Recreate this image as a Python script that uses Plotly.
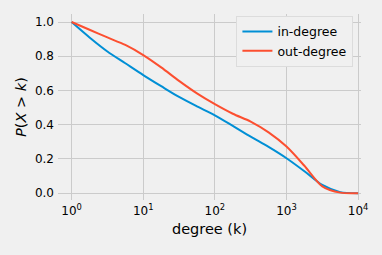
import plotly.graph_objects as go

degree = [1, 1.78, 3.16, 5.62, 10, 17.8, 31.6, 56.2, 100, 178, 316, 562, 1000, 1778, 3162, 5623, 10000]
in_degree = [1.0, 0.91, 0.828, 0.759, 0.69, 0.625, 0.562, 0.507, 0.455, 0.393, 0.33, 0.27, 0.204, 0.128, 0.048, 0.006, 0.0]
out_degree = [1.0, 0.955, 0.91, 0.866, 0.807, 0.735, 0.656, 0.583, 0.52, 0.464, 0.418, 0.355, 0.272, 0.16, 0.04, 0.003, 0.0]
x_tickvals = [1, 10, 100, 1000, 10000]
x_ticktext = ["10<sup>0</sup>", "10<sup>1</sup>", "10<sup>2</sup>", "10<sup>3</sup>", "10<sup>4</sup>"]
y_tickvals = [0.0, 0.2, 0.4, 0.6, 0.8, 1.0]

fig = go.Figure()
fig.add_trace(go.Scatter(x=degree, y=in_degree, mode="lines", name="in-degree",
                         line=dict(color="#008fd5", width=2, shape="spline", smoothing=0.8)))
fig.add_trace(go.Scatter(x=degree, y=out_degree, mode="lines", name="out-degree",
                         line=dict(color="#fc4f30", width=2, shape="spline", smoothing=0.8)))

fig.update_layout(
    width=382, height=255,
    margin=dict(l=58, r=21, t=14, b=55),
    paper_bgcolor="#f0f0f0", plot_bgcolor="#f0f0f0",
    font=dict(family="DejaVu Sans", size=12, color="#000000"),
    showlegend=True,
    legend=dict(x=0.975, y=0.99, xanchor="right", yanchor="top",
                bgcolor="#f0f0f0", bordercolor="#dcdcdc", borderwidth=1,
                font=dict(size=12.5), tracegroupgap=0, itemwidth=30),
)
fig.update_xaxes(type="log", range=[-0.19, 4.04], tickvals=x_tickvals, ticktext=x_ticktext,
                 showgrid=True, gridcolor="#cbcbcb", gridwidth=1, zeroline=False,
                 showline=False, ticks="", ticklabelstandoff=2, automargin=False,
                 title=dict(text="degree (k)", font=dict(size=14.5), standoff=6))
fig.update_yaxes(range=[-0.04, 1.047], tickvals=y_tickvals, tickformat=".1f",
                 showgrid=True, gridcolor="#cbcbcb", gridwidth=1, zeroline=False,
                 showline=False, ticks="", ticklabelstandoff=3, automargin=False,
                 title=dict(text="<i>P</i>(<i>X</i> > <i>k</i>)", font=dict(size=14.5), standoff=4))

fig.write_html("out.html", config={"displayModeBar": False},
               post_script="document.body.style.margin='0';document.body.style.background='#f0f0f0';")
